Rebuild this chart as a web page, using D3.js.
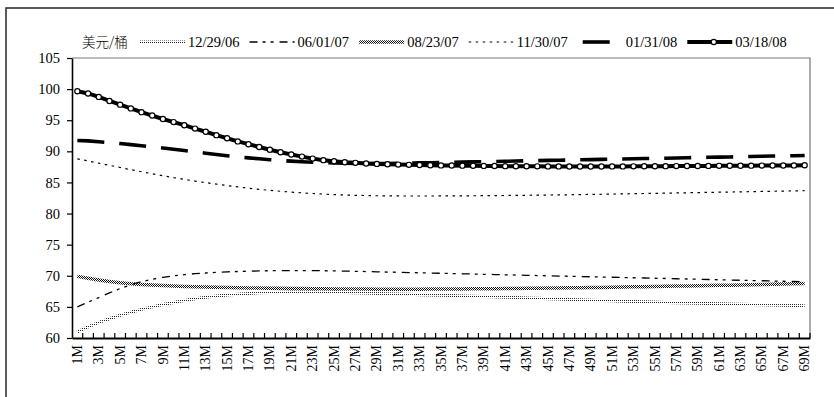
<!DOCTYPE html>
<html>
<head>
<meta charset="utf-8">
<script src="https://cdn.jsdelivr.net/npm/d3@7"></script>
<style>
  html, body { margin: 0; padding: 0; background: #fff; }
  svg { display: block; }
  text { font-family: "Liberation Serif", "Times New Roman", serif; fill: #000; }
</style>
</head>
<body>
<svg id="chart" width="834" height="397"></svg>
<script>
// Forward-curve months
const categories = ["1M","2M","3M","4M","5M","6M","7M","8M","9M","10M","11M","12M","13M","14M","15M","16M","17M","18M","19M","20M",
  "21M","22M","23M","24M","25M","26M","27M","28M","29M","30M","31M","32M","33M","34M","35M","36M","37M","38M","39M","40M",
  "41M","42M","43M","44M","45M","46M","47M","48M","49M","50M","51M","52M","53M","54M","55M","56M","57M","58M","59M","60M",
  "61M","62M","63M","64M","65M","66M","67M","68M","69M"];

const yTicks = [60, 65, 70, 75, 80, 85, 90, 95, 100, 105];
const unitLabel = "美元/桶";

// Curve values (USD / barrel) for each quote date
const s122906 = [61.0,61.8,62.5,63.1,63.65,64.15,64.6,65.0,65.38,65.72,66.03,66.3,66.55,66.75,66.9,67.05,67.17,67.26,67.33,67.37,
  67.39,67.4,67.39,67.37,67.34,67.3,67.26,67.22,67.17,67.12,67.07,67.02,66.97,66.92,66.87,66.82,66.77,66.72,66.67,66.62,
  66.56,66.5,66.44,66.38,66.32,66.26,66.2,66.14,66.08,66.02,65.97,65.92,65.87,65.82,65.77,65.72,65.67,65.62,65.57,65.53,
  65.49,65.45,65.41,65.37,65.33,65.29,65.25,65.21,65.17];
const s060107 = [65.0,65.75,66.5,67.25,67.95,68.55,69.05,69.45,69.75,70.0,70.18,70.33,70.45,70.55,70.63,70.69,70.74,70.78,70.81,70.83,
  70.84,70.84,70.83,70.81,70.78,70.75,70.72,70.68,70.64,70.6,70.56,70.52,70.48,70.44,70.4,70.36,70.32,70.28,70.24,70.2,
  70.16,70.12,70.08,70.04,70.0,69.96,69.92,69.88,69.84,69.8,69.76,69.72,69.68,69.64,69.6,69.56,69.52,69.48,69.44,69.4,
  69.36,69.32,69.28,69.24,69.2,69.16,69.12,69.08,69.04];
const s082307 = [69.9,69.6,69.32,69.08,68.88,68.72,68.6,68.5,68.42,68.35,68.29,68.24,68.19,68.15,68.11,68.08,68.05,68.02,68.0,67.98,
  67.96,67.94,67.92,67.9,67.89,67.88,67.87,67.86,67.85,67.85,67.85,67.85,67.85,67.86,67.87,67.88,67.89,67.9,67.91,67.92,
  67.94,67.96,67.98,68.0,68.02,68.04,68.06,68.08,68.1,68.13,68.16,68.19,68.22,68.25,68.28,68.31,68.34,68.37,68.4,68.43,
  68.46,68.49,68.52,68.55,68.59,68.63,68.67,68.71,68.75];
const s113007 = [88.8,88.45,88.1,87.75,87.4,87.05,86.72,86.4,86.08,85.78,85.5,85.22,84.97,84.73,84.5,84.28,84.08,83.9,83.73,83.58,
  83.45,83.33,83.22,83.13,83.05,82.98,82.93,82.89,82.86,82.84,82.83,82.82,82.82,82.82,82.83,82.84,82.85,82.86,82.87,82.88,
  82.9,82.92,82.94,82.96,82.98,83.0,83.02,83.05,83.08,83.1,83.13,83.16,83.19,83.22,83.25,83.28,83.31,83.34,83.37,83.4,
  83.43,83.46,83.49,83.52,83.55,83.58,83.61,83.64,83.67];
const s013108 = [91.75,91.68,91.55,91.4,91.25,91.08,90.9,90.72,90.53,90.33,90.12,89.92,89.7,89.5,89.3,89.12,88.95,88.8,88.66,88.53,
  88.42,88.33,88.25,88.19,88.14,88.1,88.07,88.05,88.04,88.04,88.07,88.1,88.14,88.17,88.2,88.24,88.27,88.3,88.34,88.37,
  88.4,88.44,88.47,88.5,88.54,88.57,88.6,88.64,88.67,88.7,88.74,88.77,88.8,88.84,88.87,88.9,88.94,88.97,89.0,89.04,
  89.07,89.1,89.14,89.17,89.2,89.24,89.27,89.3,89.34];
const s031808 = [99.65,99.3,98.75,98.1,97.5,96.9,96.3,95.75,95.2,94.7,94.2,93.65,93.15,92.6,92.1,91.6,91.15,90.7,90.25,89.85,
  89.48,89.15,88.83,88.58,88.4,88.25,88.15,88.05,87.98,87.92,87.87,87.83,87.8,87.77,87.74,87.72,87.7,87.68,87.66,87.64,
  87.62,87.61,87.6,87.59,87.58,87.58,87.57,87.57,87.57,87.57,87.58,87.58,87.59,87.6,87.61,87.62,87.63,87.64,87.65,87.66,
  87.67,87.68,87.69,87.7,87.71,87.72,87.73,87.74,87.76];

const seriesNames = ["12/29/06", "06/01/07", "08/23/07", "11/30/07", "01/31/08", "03/18/08"];
const seriesValues = [s122906, s060107, s082307, s113007, s013108, s031808];

// Line styles per series
const styles = [
  { stroke: "url(#dotsLight)", width: 3, dash: null, markers: false },
  { stroke: "#000", width: 1.3, dash: "8,5,3,5,3,6", markers: false },
  { stroke: "url(#dotsDense)", width: 3.5, dash: null, markers: false },
  { stroke: "#000", width: 1.2, dash: "2.5,4.5", markers: false },
  { stroke: "#000", width: 3.6, dash: "27,15", markers: false },
  { stroke: "#000", width: 4, dash: null, markers: true }
];

const svg = d3.select("#chart");

// Textures used by the two patterned curves
const defs = svg.append("defs");
const pLight = defs.append("pattern").attr("id", "dotsLight")
  .attr("patternUnits", "userSpaceOnUse").attr("width", 2).attr("height", 2);
pLight.append("rect").attr("x", 0).attr("y", 0).attr("width", 1).attr("height", 1).attr("fill", "#222");
const pDense = defs.append("pattern").attr("id", "dotsDense")
  .attr("patternUnits", "userSpaceOnUse").attr("width", 2).attr("height", 2);
pDense.append("rect").attr("x", 0).attr("y", 0).attr("width", 1).attr("height", 1).attr("fill", "#111");
pDense.append("rect").attr("x", 1).attr("y", 1).attr("width", 1).attr("height", 1).attr("fill", "#111");

// Outer frame
svg.append("rect").attr("x", 6).attr("y", 8).attr("width", 840).attr("height", 400)
  .attr("fill", "none").attr("stroke", "#333").attr("stroke-width", 1.6);

const plot = { left: 72, right: 810, top: 58, bottom: 338 };

const x = d3.scaleBand().domain(categories).range([plot.left, plot.right]).padding(0);
const y = d3.scaleLinear().domain([60, 105]).range([plot.bottom, plot.top]);
const cx = d => x(d) + x.bandwidth() / 2;

// Plot-area border (top and right)
svg.append("path")
  .attr("d", `M${plot.left},${plot.top}H${plot.right}V${plot.bottom}`)
  .attr("fill", "none").attr("stroke", "#777").attr("stroke-width", 1.2);

// Y axis
const yAxis = svg.append("g").attr("transform", `translate(${plot.left},0)`)
  .call(d3.axisLeft(y).tickValues(yTicks).tickSize(5).tickPadding(7).tickSizeOuter(0));
yAxis.select(".domain").attr("stroke", "#000").attr("stroke-width", 1.6);
yAxis.selectAll(".tick line").attr("stroke", "#000").attr("stroke-width", 1.2);
yAxis.selectAll("text").style("font-family", "Liberation Serif, serif").style("font-size", "14.5px");

// X axis: labels on every other month, inward ticks on every band edge
const xAxis = svg.append("g").attr("transform", `translate(0,${plot.bottom})`)
  .call(d3.axisBottom(x).tickValues(categories.filter((d, i) => i % 2 === 0)).tickSize(0).tickSizeOuter(0));
xAxis.select(".domain").attr("stroke", "#000").attr("stroke-width", 2);
xAxis.selectAll(".tick text")
  .style("font-family", "Liberation Serif, serif").style("font-size", "14px")
  .attr("transform", "rotate(-90)")
  .attr("text-anchor", "end")
  .attr("x", -7).attr("y", 0).attr("dy", "0.33em");
svg.append("g").selectAll("line")
  .data(categories.slice(1))
  .join("line")
  .attr("x1", d => x(d)).attr("x2", d => x(d))
  .attr("y1", plot.bottom).attr("y2", plot.bottom - 5)
  .attr("stroke", "#000").attr("stroke-width", 1.2);
svg.append("line").attr("x1", plot.right).attr("x2", plot.right)
  .attr("y1", plot.bottom).attr("y2", plot.bottom - 5).attr("stroke", "#000").attr("stroke-width", 1.2);

// Curves
const line = d3.line().x((d, i) => cx(categories[i])).y(d => y(d));
const gLines = svg.append("g");
seriesValues.forEach((vals, k) => {
  const st = styles[k];
  gLines.append("path")
    .datum(vals)
    .attr("d", line)
    .attr("fill", "none")
    .attr("stroke", st.stroke)
    .attr("stroke-width", st.width)
    .attr("stroke-dasharray", st.dash)
    .attr("stroke-linejoin", "round");
  if (st.markers) {
    gLines.append("g").selectAll("circle")
      .data(vals)
      .join("circle")
      .attr("cx", (d, i) => cx(categories[i]))
      .attr("cy", d => y(d))
      .attr("r", 2.6)
      .attr("fill", "#fff")
      .attr("stroke", "#000")
      .attr("stroke-width", 1.2);
  }
});

// Legend
const legend = svg.append("g");
const legY = 42;
legend.append("text").attr("x", 82).attr("y", legY).attr("dy", "0.35em")
  .style("font-family", "'Noto Sans CJK SC', sans-serif").style("font-size", "13.5px").style("font-weight", 300)
  .text(unitLabel);
let lx = 140;
seriesNames.forEach((name, k) => {
  const st = styles[k];
  const sw = 45;
  legend.append("line")
    .attr("x1", lx).attr("x2", lx + sw).attr("y1", legY).attr("y2", legY)
    .attr("stroke", st.stroke)
    .attr("stroke-width", st.width)
    .attr("stroke-dasharray", st.dash)
    .attr("stroke-dashoffset", k === 4 ? -5 : 0);
  if (st.markers) {
    legend.append("circle").attr("cx", lx + sw / 2 + 4).attr("cy", legY).attr("r", 2.6)
      .attr("fill", "#fff").attr("stroke", "#000").attr("stroke-width", 1.2);
  }
  const t = legend.append("text").attr("x", lx + sw + 3).attr("y", legY).attr("dy", "0.35em")
    .style("font-size", "14.5px").text(name);
  lx += sw + 3 + t.node().getComputedTextLength() + 10;
});
</script>
</body>
</html>
